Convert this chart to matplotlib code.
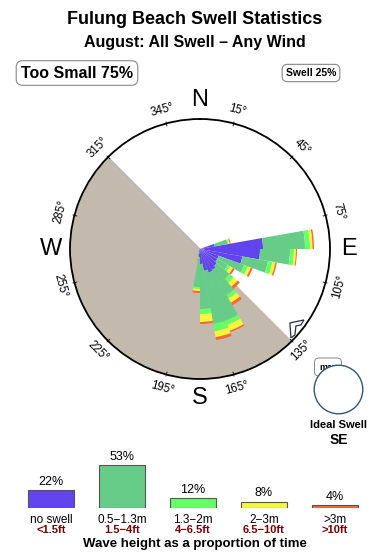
import numpy as np
import matplotlib
matplotlib.use("Agg")
import matplotlib.pyplot as plt
from matplotlib.patches import Circle, Polygon

plt.rcParams['font.family'] = ['Liberation Sans', 'DejaVu Sans']

# swell rose data (direction bins, stacked radial lengths per height class)
directions = [75, 85, 95, 105, 115, 125, 135, 145, 155, 165, 175, 185, 195]
no_swell = [1.5, 6.3, 6.0, 4.3, 2.0, 2.0, 2.2, 2.4, 2.5, 2.2, 1.5, 0.8, 0.3]
h_05_13 = [1.3, 4.2, 3.0, 2.6, 2.7, 1.2, 1.7, 2.9, 5.1, 5.4, 4.5, 3.0, 0.5]
h_13_2 = [0.1, 0.5, 0.4, 0.45, 0.4, 0.3, 0.5, 0.4, 0.45, 0.75, 0.5, 0.2, 0.1]
h_2_3 = [0.1, 0.25, 0.2, 0.3, 0.3, 0.3, 0.5, 0.5, 0.65, 0.6, 0.8, 0.2, 0.1]
h_3 = [0.1, 0.15, 0.1, 0.15, 0.2, 0.2, 0.3, 0.3, 0.15, 0.3, 0.2, 0.2, 0.1]

colors = ['#6244ee', '#66cc88', '#66ff66', '#f4f83c', '#ff6633']

# legend
leg_pct = [22, 53, 12, 8, 4]
leg_metric = ['no swell', '0.5\u22121.3m', '1.3\u22122m', '2\u22123m', '>3m']
leg_feet = ['<1.5ft', '1.5\u22124ft', '4\u22126.5ft', '6.5\u221210ft', '>10ft']

too_small = 75
swell = 25
rmax = 13.0

W, H = 390, 560
fig = plt.figure(figsize=(W / 100, H / 100), dpi=100)


def fx(px):
    return px / W


def fy(py):
    return 1 - py / H


fig.text(0.5, fy(19), 'Fulung Beach Swell Statistics', ha='center', va='center',
         fontsize=13, fontweight='bold')
fig.text(0.5, fy(42), 'August: All Swell \u2013 Any Wind', ha='center', va='center',
         fontsize=11.5, fontweight='bold')

fig.text(fx(77), fy(73), f'Too Small {too_small}%', ha='center', va='center',
         fontsize=11.5, fontweight='bold',
         bbox=dict(boxstyle='round,pad=0.3,rounding_size=0.4', fc='white', ec='#888888', lw=0.8))
fig.text(fx(311), fy(73), f'Swell {swell}%', ha='center', va='center',
         fontsize=7.5, fontweight='bold',
         bbox=dict(boxstyle='round,pad=0.35,rounding_size=0.5', fc='white', ec='#888888', lw=0.8))

# rose
cx, cy, rad = 200, 249, 130
ax = fig.add_axes([fx(cx - rad), fy(cy + rad), 2 * rad / W, 2 * rad / H], projection='polar')
ax.set_theta_zero_location('N')
ax.set_theta_direction(-1)
ax.set_ylim(0, rmax)
ax.set_xticks([])
ax.set_yticks([])
ax.grid(False)
ax.spines['polar'].set_linewidth(1.3)

# too-small half of the compass
th = np.radians(np.linspace(135, 315, 200))
ax.fill_between(th, 0, rmax, color='#c3b9ad', lw=0, zorder=1)
ax.plot(np.radians([315, 315]), [0, rmax], color='#aab4bc', lw=0.8, zorder=1)

theta = np.radians(directions)
bottom = np.zeros(len(directions))
for seg, c in zip([no_swell, h_05_13, h_13_2, h_2_3, h_3], colors):
    seg = np.array(seg)
    ax.bar(theta, seg, width=np.radians(10), bottom=bottom, color=c, lw=0, zorder=3)
    bottom += seg

for d in range(15, 360, 30):
    t = np.radians(d)
    ax.plot([t, t], [rmax - 0.25, rmax + 0.15], color='black', lw=0.6, clip_on=False, zorder=4)
    rot = ((-d + 90) % 180) - 90
    ax.text(t, rmax + 1.4, f'{d}\u00b0', ha='center', va='center', rotation=rot,
            rotation_mode='anchor', fontsize=8.3, clip_on=False)

for lab, d in zip('NESW', [0, 90, 180, 270]):
    ax.text(np.radians(d), rmax + 1.9, lab, ha='center', va='center', fontsize=17, clip_on=False)

# ideal swell marker at 135
mx = cx + rad * np.sin(np.radians(135))
my = cy - rad * np.cos(np.radians(135))
arrow = [(-1, -3), (-2, -18), (12, -21), (9, -16), (4, -15), (3, -6)]
fig.patches.append(Polygon([(fx(mx + a), fy(my + b)) for a, b in arrow], closed=True,
                           transform=fig.transFigure, fc='white', ec='#223344', lw=0.9, zorder=5))

# ideal swell inset
fig.text(fx(328), fy(367), 'max', ha='center', va='center', fontsize=6.5, fontweight='bold',
         bbox=dict(boxstyle='round,pad=0.5,rounding_size=0.5', fc='white', ec='#888888', lw=0.7),
         zorder=1)
inset = fig.add_axes([fx(313), fy(415), 51 / W, 51 / H])
inset.set_zorder(5)
inset.set_xlim(-1.05, 1.05)
inset.set_ylim(-1.05, 1.05)
inset.set_aspect('equal')
inset.axis('off')
inset.add_patch(Circle((0, 0), 1, fc='white', ec='#335577', lw=1))
fig.text(fx(339), fy(425), 'Ideal Swell', ha='center', va='center', fontsize=8, fontweight='bold')
fig.text(fx(339), fy(440), 'SE', ha='center', va='center', fontsize=10, fontweight='bold')

# height legend
lax = fig.add_axes([fx(15.5), fy(508), 355 / W, 48.6 / H])
xs = np.arange(len(leg_pct))
lax.bar(xs, leg_pct, width=0.65, color=colors, edgecolor='#555555', lw=0.8)
lax.set_xlim(-0.5, 4.5)
lax.set_ylim(0, 60)
lax.axis('off')
for x, p in zip(xs, leg_pct):
    lax.annotate(f'{p}%', (x, p), xytext=(0, 1.5), textcoords='offset points',
                 ha='center', va='bottom', fontsize=9, annotation_clip=False)
    lax.annotate(leg_metric[x], (x, 0), xytext=(0, -8.5), textcoords='offset points',
                 ha='center', va='center', fontsize=8.5, annotation_clip=False)
    lax.annotate(leg_feet[x], (x, 0), xytext=(0, -16), textcoords='offset points',
                 ha='center', va='center', fontsize=8, fontweight='bold', color='#7a0000',
                 annotation_clip=False)

fig.text(0.5, fy(544), 'Wave height as a proportion of time', ha='center', va='center',
         fontsize=9.5, fontweight='bold')

fig.savefig('out.png', dpi=100)
